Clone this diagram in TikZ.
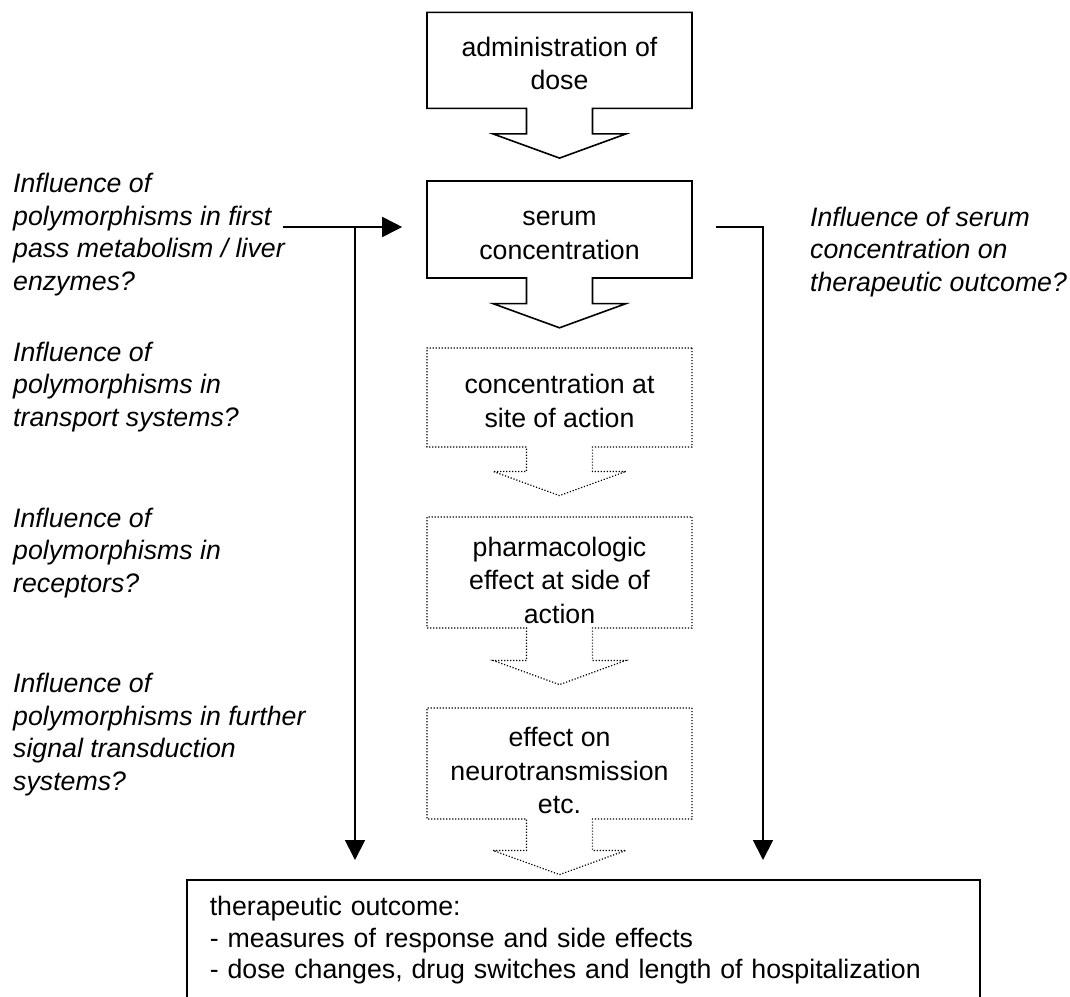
\documentclass[tikz,border=0pt]{standalone}
\usepackage{fontspec}
\setmainfont{Liberation Sans}
\usetikzlibrary{shapes.arrows, arrows.meta}
\tikzstyle{arrow} = [line width=1.8pt, -{Triangle[width=20pt,length=20pt]}]
\tikzset{every node/.style={align=center}}
\newcommand{\labfont}{\fontsize{26.7}{32.5}\selectfont}
\newcommand{\boxfont}{\fontsize{26.7}{33.5}\selectfont}

\begin{document}
\begin{tikzpicture}[x=1pt, y=-1pt,
    flowbox/.style={arrow box, draw, line width=1.6pt, minimum width=265pt,
                    minimum height=96pt, inner ysep=0pt, font=\boxfont,
                    text height=59pt, text depth=0pt,
                    arrow box shaft width=66pt, arrow box head extend=33.5pt,
                    arrow box tip angle=140,
                    arrow box north arrow=0pt, arrow box east arrow=0pt,
                    arrow box west arrow=0pt, arrow box south arrow=49pt},
    vaguebox/.style={flowbox, line width=1.2pt, dash pattern=on 1.2pt off 1.8pt},
    question/.style={anchor=base west, align=left, inner sep=0pt, font=\labfont\itshape}
]
  \useasboundingbox (0,0) rectangle (1070,996);

  % --- main chain ---
  \node[flowbox] (dose)  at (559.5, 60.3)  {administration of\\dose};
  \node[flowbox, minimum height=97pt] (serum) at (559.5, 229.5) {serum\\concentration};
  \node[vaguebox, minimum height=99pt, arrow box south arrow=48pt] (site)
        at (559.5, 397.5) {concentration at\\site of action};
  \node[vaguebox, minimum height=111pt, text height=101pt, arrow box south arrow=56pt] (pharm)
        at (559.5, 572.5) {pharmacologic\\effect at side of\\action};
  \node[vaguebox, minimum height=111pt, text height=100pt, arrow box south arrow=55pt] (neuro)
        at (559.5, 763.5) {effect on\\neurotransmission\\etc.};

  \node[draw, line width=1.6pt, anchor=north west, align=left, text width=747pt,
        inner xsep=23pt, inner ysep=16.5pt, font=\fontsize{26.7}{31.5}\selectfont]
        (outcome) at (186, 879)
        {therapeutic outcome:\\- measures of response and side effects\\- dose changes, drug switches and length of hospitalization};

  % --- questions (placed at the baseline of their last line) ---
  \node[question] (qliver)   at (13, 290) {Influence of\\polymorphisms in first\\pass metabolism / liver\\enzymes?};
  \node[question] (qtrans)   at (13, 426) {Influence of\\polymorphisms in\\transport systems?};
  \node[question] (qrecep)   at (13, 592) {Influence of\\polymorphisms in\\receptors?};
  \node[question] (qsignal)  at (13, 790) {Influence of\\polymorphisms in further\\signal transduction\\systems?};
  \node[question] (qserum)   at (810, 291) {Influence of serum\\concentration on\\therapeutic outcome?};

  % --- influence lines ---
  \coordinate (lstart) at (283, 227);
  \coordinate (ljoin)  at (355, 227);
  \coordinate (rjoin)  at (763, 227);
  \draw[arrow, shorten >=24pt] (lstart) -- (lstart -| serum.west);
  \draw[arrow, shorten >=19pt] (ljoin) -- (ljoin |- outcome.north);
  \draw[arrow, shorten <=23pt, shorten >=19pt] (serum.east |- rjoin) -- (rjoin) -- (rjoin |- outcome.north);
\end{tikzpicture}
\end{document}
